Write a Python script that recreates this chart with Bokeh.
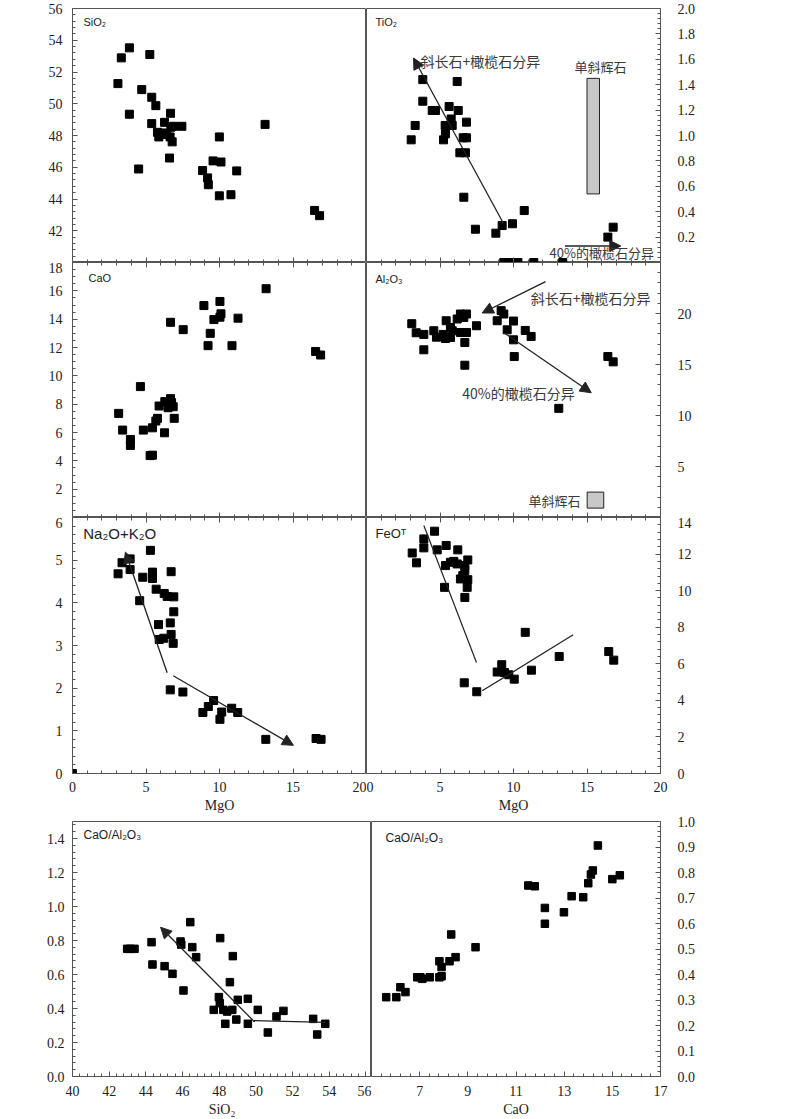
import numpy as np
from bokeh.plotting import figure
from bokeh.layouts import column, row
from bokeh.models import (LinearAxis, FixedTicker, Range1d, Label, Arrow,
                          NormalHead, NumeralTickFormatter)
from bokeh.embed import file_html
from bokeh.resources import INLINE

# ---------------- data ----------------
sio2_mgo = [3.09, 3.32, 3.87, 5.26, 3.87, 4.71, 5.39, 5.67, 6.67, 5.39,
            6.26, 5.78, 6.12, 6.42, 5.87, 6.69, 6.87, 6.64, 6.78, 7.44,
            6.6, 4.5, 9.99, 13.1, 9.56, 10.1, 8.85, 9.19, 9.24, 11.17,
            9.99, 10.78, 16.47, 16.81]
sio2_val = [51.27, 52.89, 53.52, 53.1, 49.34, 50.89, 50.41, 49.88, 49.4, 48.75,
            48.83, 48.2, 48.16, 48.06, 47.91, 48.52, 48.58, 47.91, 47.6, 48.58,
            46.58, 45.89, 47.91, 48.7, 46.4, 46.33, 45.79, 45.33, 44.9, 45.77,
            44.2, 44.27, 43.28, 42.95]

tio2_mgo = [3.83, 6.17, 3.83, 4.47, 4.69, 5.62, 6.24, 5.76, 5.35, 5.83,
            6.8, 3.31, 5.37, 3.04, 5.24, 6.58, 6.8, 6.35, 6.73, 6.62,
            10.73, 7.41, 8.8, 9.23, 9.93, 16.78, 16.42, 9.34, 9.66, 10.0,
            10.3, 11.38, 13.35]
tio2_val = [1.44, 1.425, 1.27, 1.197, 1.197, 1.228, 1.197, 1.13, 1.079, 1.079,
            1.105, 1.079, 1.013, 0.966, 0.966, 0.982, 0.982, 0.864, 0.864, 0.514,
            0.409, 0.262, 0.231, 0.291, 0.305, 0.278, 0.2, 0, 0, 0,
            0, 0, 0]

cao_mgo = [13.17, 8.94, 10.03, 10.1, 10.03, 9.62, 11.26, 6.67, 7.53, 9.37,
           9.22, 10.85, 16.54, 16.88, 4.62, 3.14, 5.89, 6.28, 6.67, 6.74,
           6.5, 6.85, 6.92, 5.78, 5.67, 3.41, 4.82, 5.44, 6.26, 3.94,
           3.94, 5.28, 5.44]
cao_val = [16.15, 14.96, 15.25, 14.38, 14.14, 13.97, 14.07, 13.78, 13.26, 13.0,
           12.13, 12.13, 11.72, 11.47, 9.24, 7.35, 7.87, 8.18, 8.39, 8.11,
           7.75, 7.82, 7.0, 7.0, 6.81, 6.17, 6.17, 6.33, 5.98, 5.51,
           5.09, 4.37, 4.4]

al_mgo = [3.08, 3.38, 3.9, 3.9, 4.58, 4.76, 5.42, 5.37, 5.22, 5.71,
          5.83, 5.71, 6.17, 6.39, 6.8, 6.39, 6.8, 6.62, 6.69, 6.69,
          7.48, 9.16, 9.34, 8.89, 10.0, 9.57, 10.0, 10.05, 10.8, 11.2,
          16.42, 16.78, 13.08]
al_val = [19.0, 18.11, 17.95, 16.44, 18.31, 17.68, 19.29, 17.55, 17.95, 18.63,
          18.31, 17.65, 19.46, 19.95, 19.95, 18.14, 18.14, 19.62, 17.16, 14.93,
          18.8, 20.28, 19.95, 19.29, 19.26, 18.4, 17.42, 15.78, 18.34, 17.75,
          15.78, 15.26, 10.7]

alk_mgo = [0, 3.1, 3.37, 3.92, 3.92, 4.78, 4.57, 5.3, 5.44, 5.44,
           5.69, 6.24, 6.44, 6.89, 6.71, 6.89, 5.85, 6.65, 5.9, 6.21,
           6.71, 6.85, 6.65, 7.51, 9.6, 9.24, 8.87, 10.15, 10.03, 10.83,
           11.24, 13.15, 16.57, 16.91]
alk_val = [0, 4.68, 4.94, 5.03, 4.78, 4.6, 4.05, 5.23, 4.72, 4.57,
           4.32, 4.22, 4.15, 4.14, 4.73, 3.79, 3.49, 3.53, 3.14, 3.17,
           3.26, 3.05, 1.96, 1.91, 1.71, 1.57, 1.43, 1.44, 1.27, 1.53,
           1.43, 0.8, 0.82, 0.8]

fe_mgo = [4.63, 3.9, 3.9, 3.11, 3.4, 4.81, 5.42, 6.21, 5.37, 5.71,
          5.94, 6.17, 6.89, 6.69, 6.69, 6.55, 6.39, 6.89, 6.85, 5.31,
          6.69, 10.8, 13.11, 16.48, 16.82, 11.22, 9.2, 8.89, 9.39, 9.68,
          10.05, 6.65, 7.5]
fe_val = [13.25, 12.83, 12.34, 12.06, 11.52, 12.23, 12.47, 12.23, 11.37, 11.55,
          11.6, 11.46, 11.68, 11.37, 11.1, 10.82, 10.64, 10.6, 10.18, 10.18,
          9.63, 7.72, 6.4, 6.67, 6.2, 5.65, 5.95, 5.55, 5.52, 5.4,
          5.16, 4.96, 4.47]

r1_sio2 = [42.98, 43.16, 43.38, 44.31, 44.36, 45.02, 45.45, 45.89, 45.93, 46.05,
           46.42, 46.53, 46.74, 48.05, 48.74, 48.58, 47.98, 48.03, 47.7, 48.22,
           48.43, 48.71, 48.33, 48.93, 49.01, 49.56, 49.56, 50.1, 50.65, 51.12,
           51.5, 53.12, 53.34, 53.78]
r1_ratio = [0.751, 0.751, 0.751, 0.79, 0.659, 0.649, 0.604, 0.794, 0.776, 0.506,
            0.908, 0.761, 0.702, 0.814, 0.708, 0.555, 0.467, 0.431, 0.392, 0.392,
            0.382, 0.392, 0.31, 0.335, 0.451, 0.457, 0.31, 0.392, 0.259, 0.353,
            0.386, 0.339, 0.247, 0.31]

r2_cao = [5.61, 6.03, 6.2, 6.41, 6.9, 7.11, 7.03, 7.42, 7.82, 7.91,
          7.82, 7.91, 8.24, 8.49, 8.31, 9.32, 11.51, 11.78, 12.2, 12.2,
          12.99, 13.31, 13.79, 14.0, 14.11, 14.19, 14.4, 15.0, 15.31]
r2_ratio = [0.311, 0.311, 0.35, 0.331, 0.389, 0.383, 0.389, 0.389, 0.389, 0.393,
            0.452, 0.429, 0.452, 0.468, 0.557, 0.507, 0.749, 0.746, 0.661, 0.599,
            0.644, 0.707, 0.703, 0.758, 0.792, 0.808, 0.906, 0.774, 0.789]

# trend arrows / lines  (x0, y0, x1, y1)
ti_arrow_plag = (9.32, 0.307, 3.2, 1.61)
ti_arrow_ol = (13.5, 0.13, 17.3, 0.13)
ti_cpx_box = (15.0, 15.85, 0.54, 1.45)
al_arrow_plag = (12.18, 23.13, 7.87, 20.05)
al_arrow_ol = (9.39, 18.08, 15.29, 12.23)
al_cpx_box = (15.01, 16.14, 0.92, 2.49)
alk_arrow_1 = (6.44, 2.36, 3.6, 5.19)
alk_arrow_2 = (6.85, 2.29, 15.03, 0.66)
fe_line_1 = ([3.9, 7.48], [13.56, 6.07])
fe_line_2 = ([7.87, 14.06], [4.52, 7.59])
r1_line = ([53.8, 49.85], [0.318, 0.329])
r1_arrow = (49.85, 0.329, 44.8, 0.878)

mgo_ticks = [0, 5, 10, 15, 20]
sio2_ticks = [42, 44, 46, 48, 50, 52, 54, 56]
tio2_ticks = [0.2, 0.4, 0.6, 0.8, 1.0, 1.2, 1.4, 1.6, 1.8, 2.0]
cao_ticks = [2, 4, 6, 8, 10, 12, 14, 16, 18]
al_ticks = [5, 10, 15, 20]
alk_ticks = [0, 1, 2, 3, 4, 5, 6]
fe_ticks = [0, 2, 4, 6, 8, 10, 12, 14]
r1_yticks = [0.0, 0.2, 0.4, 0.6, 0.8, 1.0, 1.2, 1.4]
r1_xticks = [40, 42, 44, 46, 48, 50, 52, 54, 56]
r2_yticks = [0.0, 0.1, 0.2, 0.3, 0.4, 0.5, 0.6, 0.7, 0.8, 0.9, 1.0]
r2_xticks = [7, 9, 11, 13, 15, 17]

# ---------------- styling helpers ----------------
TICK_FONT = "Liberation Serif"
CJK = "Noto Sans CJK SC"
SANS = "Liberation Sans"
SPINE = "#555555"
INK = "#222222"


def base(xr, yr, fw, fh, bl, br, bt, bb):
    p = figure(x_range=Range1d(*xr), y_range=Range1d(*yr),
               frame_width=fw, frame_height=fh,
               min_border_left=bl, min_border_right=br,
               min_border_top=bt, min_border_bottom=bb,
               x_axis_location=None, y_axis_location=None,
               toolbar_location=None, output_backend="svg")
    p.grid.visible = False
    p.outline_line_color = SPINE
    p.outline_line_width = 1
    p.background_fill_color = "white"
    p.border_fill_color = "white"
    return p


def add_axis(p, side, ticks, minor, labels=True, fixed=None, standoff=8,
             fmt=None, label=None):
    ax = LinearAxis(ticker=FixedTicker(ticks=ticks,
                                       minor_ticks=[float(round(v, 4)) for v in minor]))
    ax.axis_line_color = None
    ax.major_tick_in = 5
    ax.major_tick_out = 0
    ax.minor_tick_in = 3
    ax.minor_tick_out = 0
    ax.major_tick_line_color = SPINE
    ax.minor_tick_line_color = SPINE
    if fixed is not None:
        ax.fixed_location = fixed
    if labels:
        ax.major_label_text_font = TICK_FONT
        ax.major_label_text_font_size = "14px"
        ax.major_label_text_color = INK
        ax.major_label_standoff = standoff
    else:
        ax.major_label_text_color = None
        ax.major_label_standoff = 0
    if fmt:
        ax.formatter = NumeralTickFormatter(format=fmt)
    if label:
        ax.axis_label = label
        ax.axis_label_text_font = TICK_FONT
        ax.axis_label_text_font_size = "14px"
        ax.axis_label_text_font_style = "normal"
        ax.axis_label_text_color = INK
        ax.axis_label_standoff = 3
    p.add_layout(ax, side)
    return ax


def pts(p, x, y, size=8):
    p.scatter(x=x, y=y, marker="square", size=size, fill_color="black",
              line_color="black")


def title(p, x, y, text, size="11px"):
    p.add_layout(Label(x=x, y=y, text=text, text_font=SANS,
                       text_font_size=size, text_color=INK,
                       text_align="left", text_baseline="middle"))


def note(p, x, y, text, align="left", size="14px"):
    p.add_layout(Label(x=x, y=y, text=text, text_font=CJK,
                       text_font_size=size, text_color="#3a3a3a",
                       text_align=align, text_baseline="middle"))


def arrow(p, a):
    p.add_layout(Arrow(end=NormalHead(size=11, fill_color=INK, line_color=INK),
                       x_start=a[0], y_start=a[1], x_end=a[2], y_end=a[3],
                       line_color=INK, line_width=1.3))


mgo_minor = np.arange(0, 20.01, 1)
LEFT = 72

# ---------------- row A ----------------
p_si = base((0, 20), (40, 56), 294, 254, LEFT, 0, 8, 0)
add_axis(p_si, "left", sio2_ticks, np.arange(40, 56.01, 0.4), standoff=10)
add_axis(p_si, "below", mgo_ticks, mgo_minor, labels=False, fixed=40)
pts(p_si, sio2_mgo, sio2_val)
title(p_si, 0.75, 55.15, "SiO₂")

p_ti = base((0, 20), (0, 2.0), 294, 254, 0, 50, 8, 0)
add_axis(p_ti, "right", tio2_ticks, np.arange(0, 2.001, 0.04), standoff=17, fmt="0.0")
add_axis(p_ti, "below", mgo_ticks, mgo_minor, labels=False, fixed=0)
pts(p_ti, tio2_mgo, tio2_val)
title(p_ti, 0.61, 1.89, "TiO₂")
arrow(p_ti, ti_arrow_plag)
note(p_ti, 3.67, 1.59, "斜长石+橄榄石分异")
p_ti.quad(left=ti_cpx_box[0], right=ti_cpx_box[1], bottom=ti_cpx_box[2],
          top=ti_cpx_box[3], fill_color="#c8c8c8", line_color=INK, line_width=1)
note(p_ti, 15.92, 1.54, "单斜辉石", align="center", size="13px")
arrow(p_ti, ti_arrow_ol)
note(p_ti, 19.55, 0.082, "40%的橄榄石分异", align="right", size="13px")

# ---------------- row B ----------------
p_ca = base((0, 20), (0, 18), 294, 255, LEFT, 0, 0, 0)
add_axis(p_ca, "left", cao_ticks, np.arange(0, 18.01, 0.5), standoff=10)
add_axis(p_ca, "above", mgo_ticks, mgo_minor, labels=False, fixed=18)
add_axis(p_ca, "below", mgo_ticks, mgo_minor, labels=False, fixed=0)
pts(p_ca, cao_mgo, cao_val)
title(p_ca, 1.09, 16.88, "CaO")

p_al = base((0, 20), (0, 25), 294, 255, 0, 50, 0, 0)
add_axis(p_al, "right", al_ticks, np.arange(0, 25.01, 1), standoff=17)
add_axis(p_al, "above", mgo_ticks, mgo_minor, labels=False, fixed=25)
add_axis(p_al, "below", mgo_ticks, mgo_minor, labels=False, fixed=0)
pts(p_al, al_mgo, al_val)
title(p_al, 0.61, 23.4, "Al₂O₃")
arrow(p_al, al_arrow_plag)
note(p_al, 19.32, 21.49, "斜长石+橄榄石分异", align="right")
arrow(p_al, al_arrow_ol)
note(p_al, 6.51, 12.23, "40%的橄榄石分异")
p_al.quad(left=al_cpx_box[0], right=al_cpx_box[1], bottom=al_cpx_box[2],
          top=al_cpx_box[3], fill_color="#c8c8c8", line_color=INK, line_width=1)
note(p_al, 14.56, 1.67, "单斜辉石", align="right", size="13px")

# ---------------- row C ----------------
p_na = base((0, 20), (0, 6), 294, 256, LEFT, 0, 0, 42)
add_axis(p_na, "left", alk_ticks, np.arange(0, 6.01, 0.2), standoff=10)
add_axis(p_na, "above", mgo_ticks, mgo_minor, labels=False, fixed=6)
add_axis(p_na, "below", mgo_ticks, mgo_minor, standoff=8, label="MgO")
pts(p_na, alk_mgo, alk_val)
title(p_na, 0.73, 5.62, "Na₂O+K₂O", size="15px")
arrow(p_na, alk_arrow_1)
arrow(p_na, alk_arrow_2)

p_fe = base((0, 20), (0, 14), 294, 256, 0, 50, 0, 42)
add_axis(p_fe, "right", fe_ticks, np.arange(0, 14.01, 0.4), standoff=17)
add_axis(p_fe, "above", mgo_ticks, mgo_minor, labels=False, fixed=14)
add_axis(p_fe, "below", mgo_ticks, mgo_minor, standoff=8, label="MgO")
pts(p_fe, fe_mgo, fe_val)
title(p_fe, 0.61, 13.12, "FeOᵀ", size="13px")
p_fe.line(fe_line_1[0], fe_line_1[1], line_color=INK, line_width=1.2)
p_fe.line(fe_line_2[0], fe_line_2[1], line_color=INK, line_width=1.2)

# ---------------- row D ----------------
p_r1 = base((40, 56.3), (0, 1.5), 299, 255, LEFT, 0, 6, 40)
add_axis(p_r1, "left", r1_yticks, np.arange(0, 1.501, 0.04), standoff=8, fmt="0.0")
add_axis(p_r1, "below", r1_xticks, np.arange(40, 56.31, 0.4), standoff=9, label="SiO₂")
pts(p_r1, r1_sio2, r1_ratio, size=7.5)
title(p_r1, 40.6, 1.418, "CaO/Al₂O₃", size="12px")
p_r1.line(r1_line[0], r1_line[1], line_color=INK, line_width=1.2)
arrow(p_r1, r1_arrow)

p_r2 = base((5, 17), (0, 1.0), 289, 255, 0, 50, 6, 40)
add_axis(p_r2, "right", r2_yticks, np.arange(0, 1.001, 0.02), standoff=17, fmt="0.0")
add_axis(p_r2, "below", r2_xticks, np.arange(5, 17.01, 0.4), standoff=9, label="CaO")
pts(p_r2, r2_cao, r2_ratio, size=7.5)
title(p_r2, 5.58, 0.937, "CaO/Al₂O₃", size="12px")

layout = column(row(p_si, p_ti), row(p_ca, p_al), row(p_na, p_fe), row(p_r1, p_r2))

open("out.html", "w").write(file_html(layout, INLINE))
